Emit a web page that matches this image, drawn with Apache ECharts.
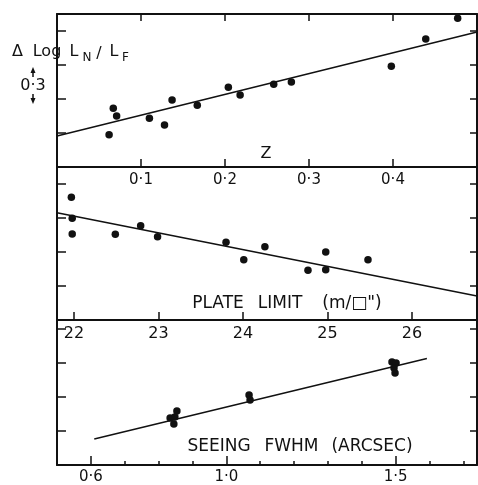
<!DOCTYPE html>
<html>
<head>
<meta charset="utf-8">
<script src="https://cdn.jsdelivr.net/npm/echarts@6/dist/echarts.min.js"></script>
<style>
  html, body { margin: 0; padding: 0; background: #fff; }
  #chart { width: 478px; height: 485px; }
</style>
</head>
<body>
<div id="chart"></div>
<script>
// tick labels
var zTicks = [0.1, 0.2, 0.3, 0.4];
var magTicks = [22, 23, 24, 25, 26];
var seeingLabels = [0.6, 1.0, 1.5];

// panel 1: redshift Z vs delta log L
var zValues = [0.062, 0.067, 0.071, 0.110, 0.128, 0.137, 0.167, 0.204, 0.218, 0.258, 0.279, 0.398, 0.439, 0.477];
var zLum    = [0.285, 0.518, 0.450, 0.430, 0.371, 0.591, 0.544, 0.703, 0.635, 0.730, 0.750, 0.889, 1.129, 1.312];
var zFitX = [0, 0.5];
var zFitY = [0.274, 1.191];

// panel 2: plate limit
var limValues = [21.97, 21.98, 21.98, 22.49, 22.79, 22.99, 23.80, 24.01, 24.26, 24.77, 24.98, 24.98, 25.48];
var limLum    = [1.083, 0.897, 0.759, 0.756, 0.832, 0.735, 0.686, 0.532, 0.647, 0.439, 0.600, 0.444, 0.532];
var limFitX = [21.8, 26.77];
var limFitY = [0.947, 0.212];

// panel 3: seeing
var seeValues = [0.854, 0.834, 0.848, 0.845, 1.067, 1.070, 1.489, 1.501, 1.495, 1.498];
var seeLum    = [0.476, 0.415, 0.424, 0.362, 0.618, 0.574, 0.909, 0.900, 0.856, 0.812];
var seeFitX = [0.61, 1.592];
var seeFitY = [0.229, 0.941];

var ink = '#111';
var font = 'DejaVu Sans';

function zip(a, b) {
    return a.map(function (v, i) { return [v, b[i]]; });
}
function dot(v) {
    return v.toFixed(1).replace('.', '\u00b7');
}

var axisLine = { show: true, onZero: false, lineStyle: { color: ink, width: 2 } };
var tickStyle = { color: ink, width: 1.5 };

function yPair(grid, max) {
    return [
        { gridIndex: grid, type: 'value', position: 'left', min: 0, max: max, interval: 0.3,
          axisLine: axisLine, axisTick: { inside: true, length: 9, lineStyle: tickStyle },
          axisLabel: { show: false }, splitLine: { show: false } },
        { gridIndex: grid, type: 'value', position: 'right', min: 0, max: max, interval: 0.3,
          axisLine: axisLine, axisTick: { inside: true, length: 7, lineStyle: tickStyle },
          axisLabel: { show: false }, splitLine: { show: false } }
    ];
}

function label(text, x, y, size) {
    return {
        type: 'text',
        style: { text: text, x: x, y: y, fill: ink, font: size + 'px "' + font + '"',
                 textAlign: 'center', textVerticalAlign: 'middle' }
    };
}

var dots = { color: ink, opacity: 1 };

var chart = echarts.init(document.getElementById('chart'));

var option = {
    animation: false,
    backgroundColor: '#fff',
    textStyle: { fontFamily: font },
    grid: [
        { left: 57, top: 14, width: 420, height: 153 },
        { left: 57, top: 167, width: 420, height: 153 },
        { left: 57, top: 320, width: 420, height: 145 },
        { left: 57, top: 320, width: 420, height: 145 }
    ],
    xAxis: [
        { gridIndex: 0, type: 'value', position: 'bottom', min: 0, max: 0.5,
          axisLine: axisLine,
          axisTick: { inside: true, length: 8, customValues: zTicks, lineStyle: tickStyle },
          axisLabel: { customValues: zTicks, formatter: dot, margin: 6, fontSize: 15, color: ink, fontFamily: font },
          splitLine: { show: false } },
        { gridIndex: 0, type: 'value', position: 'top', min: 0, max: 0.5,
          axisLine: axisLine,
          axisTick: { inside: true, length: 7, customValues: zTicks, lineStyle: tickStyle },
          axisLabel: { show: false }, splitLine: { show: false } },
        { gridIndex: 1, type: 'value', position: 'bottom', min: 21.8, max: 26.77,
          axisLine: axisLine,
          axisTick: { inside: true, length: 8, customValues: magTicks, lineStyle: tickStyle },
          axisLabel: { customValues: magTicks, formatter: function (v) { return String(v); },
                       margin: 6, fontSize: 16, color: ink, fontFamily: font },
          splitLine: { show: false } },
        { gridIndex: 2, type: 'value', position: 'bottom', min: 0.5, max: 1.74, interval: 0.1,
          axisLine: axisLine,
          axisTick: { inside: true, length: 4, lineStyle: tickStyle },
          axisLabel: { show: false }, splitLine: { show: false } },
        { gridIndex: 3, type: 'value', position: 'bottom', min: 0.5, max: 1.74,
          axisLine: { show: false, onZero: false },
          axisTick: { inside: true, length: 9, customValues: seeingLabels, lineStyle: tickStyle },
          axisLabel: { customValues: seeingLabels, formatter: dot, margin: 5, fontSize: 15, color: ink, fontFamily: font },
          splitLine: { show: false } }
    ],
    yAxis: [].concat(
        yPair(0, 1.35),
        yPair(1, 1.35),
        yPair(2, 1.28),
        [{ gridIndex: 3, type: 'value', min: 0, max: 1.28, show: false }]
    ),
    series: [
        { type: 'scatter', xAxisIndex: 0, yAxisIndex: 0, data: zip(zValues, zLum),
          symbolSize: 7.5, itemStyle: dots },
        { type: 'line', xAxisIndex: 0, yAxisIndex: 0, data: zip(zFitX, zFitY),
          symbol: 'none', lineStyle: { color: ink, width: 1.5 } },
        { type: 'scatter', xAxisIndex: 2, yAxisIndex: 2, data: zip(limValues, limLum),
          symbolSize: 7.5, itemStyle: dots },
        { type: 'line', xAxisIndex: 2, yAxisIndex: 2, data: zip(limFitX, limFitY),
          symbol: 'none', lineStyle: { color: ink, width: 1.5 } },
        { type: 'scatter', xAxisIndex: 3, yAxisIndex: 4, data: zip(seeValues, seeLum),
          symbolSize: 7.5, itemStyle: dots },
        { type: 'line', xAxisIndex: 3, yAxisIndex: 4, data: zip(seeFitX, seeFitY),
          symbol: 'none', lineStyle: { color: ink, width: 1.5 } }
    ],
    graphic: [
        label('\u0394', 17.5, 52, 16),
        label('Log', 47, 52, 16),
        label('L', 74, 52, 16),
        label('N', 87, 58, 12),
        label('/', 99, 54, 16),
        label('L', 114, 52, 16),
        label('F', 125.5, 58, 12),
        label('0\u00b73', 33, 85.5, 16),
        { type: 'polygon', shape: { points: [[33, 67], [30.5, 73], [35.5, 73]] }, style: { fill: ink } },
        { type: 'line', shape: { x1: 33, y1: 72, x2: 33, y2: 77 }, style: { stroke: ink, lineWidth: 1.5 } },
        { type: 'line', shape: { x1: 33, y1: 94, x2: 33, y2: 99 }, style: { stroke: ink, lineWidth: 1.5 } },
        { type: 'polygon', shape: { points: [[30.5, 98], [35.5, 98], [33, 104]] }, style: { fill: ink } },
        label('Z', 266, 154, 16),
        label('PLATE', 218, 304, 17),
        label('LIMIT', 280, 304, 17),
        label('(m/\u25a1")', 352, 304, 17),
        label('SEEING', 219, 447, 17),
        label('FWHM', 291.5, 447, 17),
        label('(ARCSEC)', 372, 447, 17)
    ]
};

chart.setOption(option);

window.onresize = chart.resize;
</script>
</body>
</html>
